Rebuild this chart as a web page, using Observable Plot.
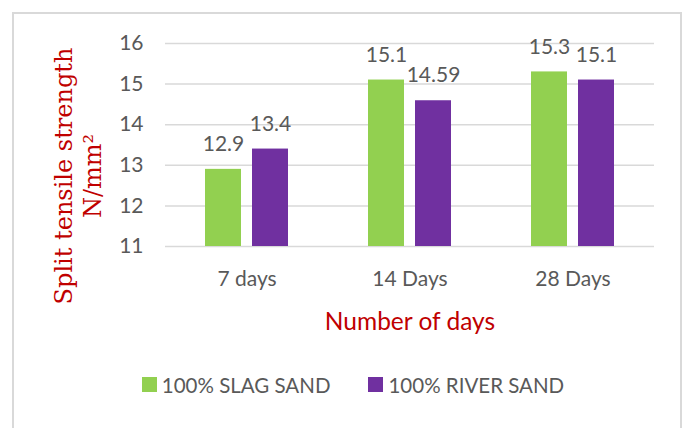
<!DOCTYPE html>
<html><head><meta charset="utf-8">
<script src="https://cdn.jsdelivr.net/npm/d3@7"></script>
<script src="https://cdn.jsdelivr.net/npm/@observablehq/plot@0.6"></script>
<style>
body{margin:0;background:#fff;}
#frame{position:absolute;left:12px;top:12px;width:670px;height:440px;border:2px solid #d9d9d9;border-bottom:none;box-sizing:border-box;}
#chart svg{display:block;}
g[aria-label="fx-axis label"] text{fill:#c00000;font-size:24.5px;}
#legend{margin-top:14px;padding-left:12px;}
#legend .lg-swatches-wrap, #legend .lg-swatches{justify-content:center;display:flex;align-items:center;}
#legend .lg-swatch{margin-right:38px !important;}
#legend .lg-swatch:last-child{margin-right:0 !important;}
#legend .lg-swatch > svg{margin-right:5px !important;}
</style>
</head><body>
<div id="frame"><div id="chart"></div><div id="legend"></div></div>
<script>
const days = ["7 days", "14 Days", "28 Days"];
const series = ["100% SLAG SAND", "100% RIVER SAND"];
const slag = [12.9, 15.1, 15.3];
const river = [13.4, 14.59, 15.1];
const colors = ["#92d050", "#7030a0"];
const yTicks = [11, 12, 13, 14, 15, 16];
const yTitle = ["Split tensile strength\nN/mm²"];
const xTitle = "Number of days";

const data = days.flatMap((d, i) => [
  {day: d, series: series[0], value: slag[i]},
  {day: d, series: series[1], value: river[i]}
]);

const chart = Plot.plot({
  width: 666, height: 340,
  marginTop: 29, marginBottom: 108, marginLeft: 151, marginRight: 26,
  style: {fontFamily: "Lato", color: "#595959", background: "transparent"},
  fx: {domain: days, padding: 0},
  x: {domain: series, paddingInner: 0.234, paddingOuter: 0.851, axis: null},
  y: {domain: [11, 16]},
  color: {domain: series, range: colors},
  marks: [
    Plot.gridY(yTicks, {stroke: "#d9d9d9", strokeOpacity: 1, strokeWidth: 1.5}),
    Plot.axisY(yTicks, {tickSize: 0, tickPadding: 22, fontSize: 21, label: null}),
    Plot.axisFx({anchor: "bottom", tickSize: 0, tickPadding: 25, fontSize: 21, label: xTitle, labelAnchor: "center", labelOffset: 83, labelArrow: "none"}),
    Plot.text(yTitle, {fx: () => days[0], text: d => d, frameAnchor: "left", textAnchor: "middle", rotate: -90, lineAnchor: "top", lineHeight: 1.2, dx: -114, dy: 31, fontSize: 24, fontFamily: "DejaVu Serif", fill: "#c00000"}),
    Plot.barY(data, {fx: "day", x: "series", y1: 11, y2: "value", fill: "series"}),
    Plot.text(data, {fx: "day", x: "series", y: "value", text: d => String(d.value), dy: -25, fontSize: 21, fill: "#595959"})
  ]
});
document.getElementById("chart").appendChild(chart);

const legend = Plot.legend({
  color: {domain: series, range: colors},
  swatchSize: 15,
  className: "lg",
  style: {fontFamily: "Lato", fontSize: "20.5px", color: "#595959"}
});
document.getElementById("legend").appendChild(legend);
</script>
</body></html>
